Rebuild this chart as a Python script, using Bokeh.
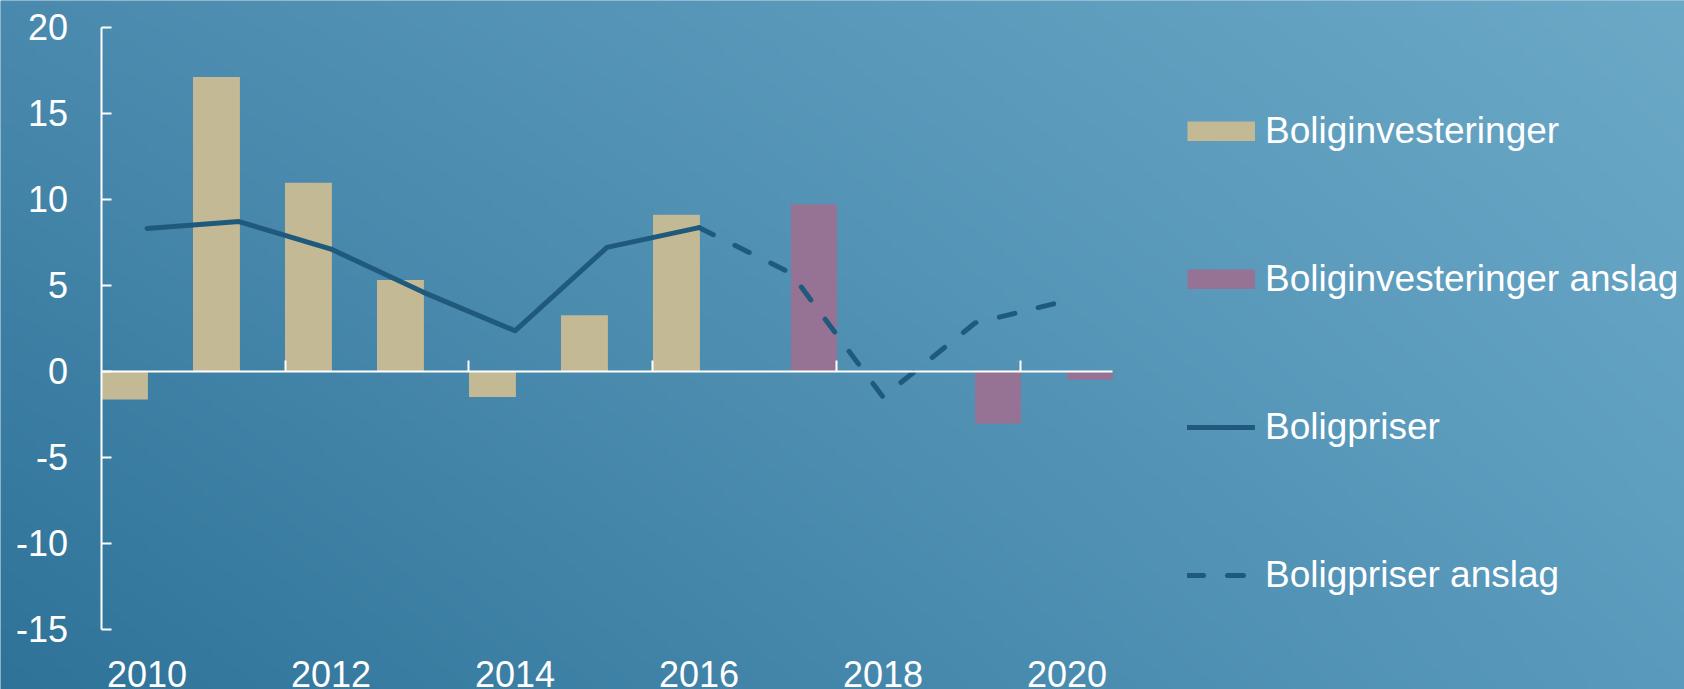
import numpy as np
from bokeh.plotting import figure
from bokeh.models import (Range1d, LinearAxis, FixedTicker, Legend, LegendItem)
from bokeh.embed import file_html
from bokeh.resources import INLINE

# ---- data ----
years = ["2010", "2011", "2012", "2013", "2014", "2015", "2016", "2017", "2018", "2019", "2020"]
invest = [-1.65, 17.1, 10.95, 5.3, -1.5, 3.25, 9.1, np.nan, np.nan, np.nan, np.nan]
invest_anslag = [np.nan, np.nan, np.nan, np.nan, np.nan, np.nan, np.nan, 9.7, np.nan, -3.05, -0.5]
price_years = ["2010", "2011", "2012", "2013", "2014", "2015", "2016"]
prices = [8.3, 8.7, 7.1, 4.6, 2.35, 7.2, 8.35]
price_anslag_years = ["2016", "2017", "2018", "2019", "2020"]
prices_anslag = [8.35, 5.7, -1.5, 2.8, 4.1]
y_ticks = [-15, -10, -5, 0, 5, 10, 15, 20]

TAN = "#c3b995"
PURPLE = "#967395"
LINE = "#1f5a7d"
FONT = "Liberation Sans"
FS = "36px"
LFS = "37px"

W, H = 1684, 689
x0, x1 = -1.0924, 17.212
y0, y1 = -18.506, 21.552

p = figure(width=W, height=H, output_backend="svg", toolbar_location=None,
           x_range=Range1d(x0, x1), y_range=Range1d(y0, y1),
           x_axis_location=None, y_axis_location=None, title=None,
           min_border=0, outline_line_color=None)
p.grid.grid_line_color = None
p.background_fill_color = "#4f8fb3"
p.border_fill_color = "#4f8fb3"

# ---- background gradient (style only) ----
nx, ny = 240, 100
bl = np.array([47, 115, 153], float)
br = np.array([90, 155, 189], float)
tl = np.array([74, 138, 174], float)
tr = np.array([108, 169, 199], float)
u = np.linspace(0, 1, nx)[None, :, None]
v = np.linspace(0, 1, ny)[:, None, None]
col = (1 - v) * ((1 - u) * bl + u * br) + v * ((1 - u) * tl + u * tr)
img = np.empty((ny, nx), dtype=np.uint32)
view = img.view(dtype=np.uint8).reshape((ny, nx, 4))
view[:, :, 0] = col[:, :, 0].astype(np.uint8)
view[:, :, 1] = col[:, :, 1].astype(np.uint8)
view[:, :, 2] = col[:, :, 2].astype(np.uint8)
view[:, :, 3] = 255
p.image_rgba(image=[img], x=x0, y=y0, dw=x1 - x0, dh=y1 - y0, level="image")

idx = {y: i for i, y in enumerate(years)}
xs = np.arange(len(years))

p.vbar(x=xs + 0.255, top=invest, width=0.51, fill_color=TAN, line_color=None)
p.vbar(x=xs + 0.75, top=invest_anslag, width=0.5, fill_color=PURPLE, line_color=None)
r_pr = p.line([idx[y] + 0.5 for y in price_years], prices, line_color=LINE, line_width=5,
              line_cap="round", line_join="round")
r_pa = p.line([idx[y] + 0.5 for y in price_anslag_years], prices_anslag, line_color=LINE,
              line_width=5, line_dash="16 24", line_cap="round", line_join="round")

# legend swatches for the bar series (full-size rectangles)
sw_inv = p.line([np.nan], [np.nan], line_color=TAN, line_width=20, line_cap="butt")
sw_ans = p.line([np.nan], [np.nan], line_color=PURPLE, line_width=20, line_cap="butt")

# ---- axes ----
yax = LinearAxis(fixed_location=0, ticker=FixedTicker(ticks=y_ticks), bounds=(-15, 20))
yax.axis_line_color = "white"
yax.axis_line_width = 2
yax.major_tick_line_color = "white"
yax.major_tick_line_width = 2
yax.major_tick_in = 10
yax.major_tick_out = 0
yax.minor_tick_line_color = None
yax.major_label_standoff = 33
yax.major_label_text_color = "white"
yax.major_label_text_font = FONT
yax.major_label_text_font_size = FS
yax.major_label_overrides = {t: str(t) for t in y_ticks}
p.add_layout(yax, "left")

zax = LinearAxis(fixed_location=0, ticker=FixedTicker(ticks=[2, 4, 6, 8, 10]), bounds=(0, len(years)))
zax.axis_line_color = "white"
zax.axis_line_width = 2
zax.major_tick_line_color = "white"
zax.major_tick_line_width = 2
zax.major_tick_in = 11
zax.major_tick_out = 0
zax.minor_tick_line_color = None
zax.major_label_text_color = None
zax.major_label_text_font_size = "1px"
p.add_layout(zax, "below")

lab_ticks = [i + 0.5 for i in range(0, len(years), 2)]
xax = LinearAxis(fixed_location=-15, ticker=FixedTicker(ticks=lab_ticks))
xax.axis_line_color = None
xax.major_tick_line_color = None
xax.minor_tick_line_color = None
xax.major_tick_in = 0
xax.major_tick_out = 0
xax.major_label_standoff = 32
xax.major_label_text_color = "white"
xax.major_label_text_font = FONT
xax.major_label_text_font_size = FS
xax.major_label_overrides = {i + 0.5: years[i] for i in range(0, len(years), 2)}
p.add_layout(xax, "below")

# ---- legend ----
legend = Legend(items=[
    LegendItem(label="Boliginvesteringer", renderers=[sw_inv]),
    LegendItem(label="Boliginvesteringer anslag", renderers=[sw_ans]),
    LegendItem(label="Boligpriser", renderers=[r_pr]),
    LegendItem(label="Boligpriser anslag", renderers=[r_pa]),
], location=(1187, 92))
legend.padding = 0
legend.margin = 0
legend.border_line_color = None
legend.background_fill_alpha = 0
legend.glyph_width = 68
legend.glyph_height = 20
legend.label_height = 45
legend.spacing = 103
legend.label_standoff = 10
legend.label_text_color = "white"
legend.label_text_font = FONT
legend.label_text_font_size = LFS
p.add_layout(legend)

open("out.html", "w").write(file_html(p, INLINE))
